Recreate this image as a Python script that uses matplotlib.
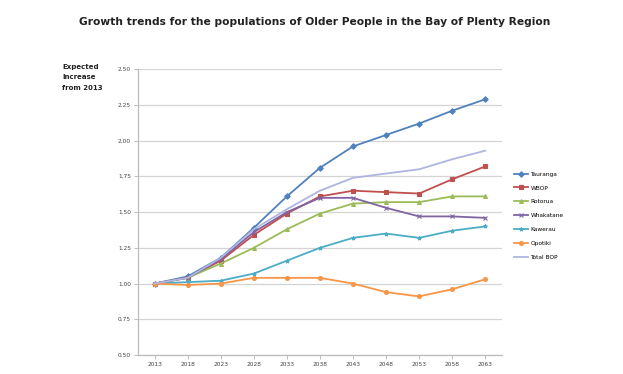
import matplotlib.pyplot as plt

# Projected growth of the older population, relative to 2013 (2013 = 1.00)
years = ["2013", "2018", "2023", "2028", "2033", "2038", "2043", "2048", "2053", "2058", "2063"]

tauranga = [1.00, 1.05, 1.18, 1.39, 1.61, 1.81, 1.96, 2.04, 2.12, 2.21, 2.29]
wbop = [1.00, 1.04, 1.16, 1.34, 1.49, 1.61, 1.65, 1.64, 1.63, 1.73, 1.82]
rotorua = [1.00, 1.04, 1.14, 1.25, 1.38, 1.49, 1.56, 1.57, 1.57, 1.61, 1.61]
whakatane = [1.00, 1.04, 1.17, 1.36, 1.50, 1.60, 1.60, 1.53, 1.47, 1.47, 1.46]
kawerau = [1.00, 1.01, 1.02, 1.07, 1.16, 1.25, 1.32, 1.35, 1.32, 1.37, 1.40]
opotiki = [1.00, 0.99, 1.00, 1.04, 1.04, 1.04, 1.00, 0.94, 0.91, 0.96, 1.03]
total_bop = [1.00, 1.04, 1.18, 1.38, 1.52, 1.65, 1.74, 1.77, 1.80, 1.87, 1.93]

series = [
    ("Tauranga", tauranga, "#4F81BD", "D"),
    ("WBOP", wbop, "#C0504D", "s"),
    ("Rotorua", rotorua, "#9BBB59", "^"),
    ("Whakatane", whakatane, "#8064A2", "x"),
    ("Kawerau", kawerau, "#4BACC6", "*"),
    ("Opotiki", opotiki, "#F79646", "o"),
    ("Total BOP", total_bop, "#AFB4E0", None),
]

y_ticks = [0.50, 0.75, 1.00, 1.25, 1.50, 1.75, 2.00, 2.25, 2.50]

fig = plt.figure(figsize=(6.23, 3.74), dpi=100)
ax = fig.add_axes([0.2215, 0.0508, 0.584, 0.764])

x = range(len(years))
for name, vals, color, marker in series:
    ax.plot(x, vals, color=color, lw=1.3, marker=marker, markersize=2.8,
            markeredgewidth=0.8, label=name, zorder=3)

ax.set_xlim(-0.5, len(years) - 0.5)
ax.set_ylim(0.5, 2.5)
ax.set_yticks(y_ticks)
ax.set_yticklabels([f"{t:.2f}" for t in y_ticks], fontsize=4.2, color="#444444")
ax.set_xticks(list(x))
ax.set_xticklabels(years, fontsize=4.2, color="#444444")
ax.yaxis.grid(True, color="#d4d4d4", lw=0.9, zorder=0)
ax.set_axisbelow(True)

for side in ("top", "right"):
    ax.spines[side].set_visible(False)
for side in ("left", "bottom"):
    ax.spines[side].set_color("#bcbcbc")
    ax.spines[side].set_linewidth(0.9)
ax.tick_params(axis="both", length=3, width=0.7, color="#bcbcbc", pad=2)

fig.text(0.505, 0.94, "Growth trends for the populations of Older People in the Bay of Plenty Region",
         ha="center", va="center", fontsize=7.7, fontweight="bold", color="#222222")
fig.text(0.10, 0.83, "Expected\nIncrease\nfrom 2013", ha="left", va="top",
         fontsize=5, fontweight="bold", color="#222222", linespacing=1.9)

ax.legend(loc="upper left", bbox_to_anchor=(1.027, 0.65), frameon=False,
          fontsize=4.2, handlelength=2.4, labelspacing=1.5, handletextpad=0.4,
          borderaxespad=0)

fig.savefig("out.png", dpi=100)
